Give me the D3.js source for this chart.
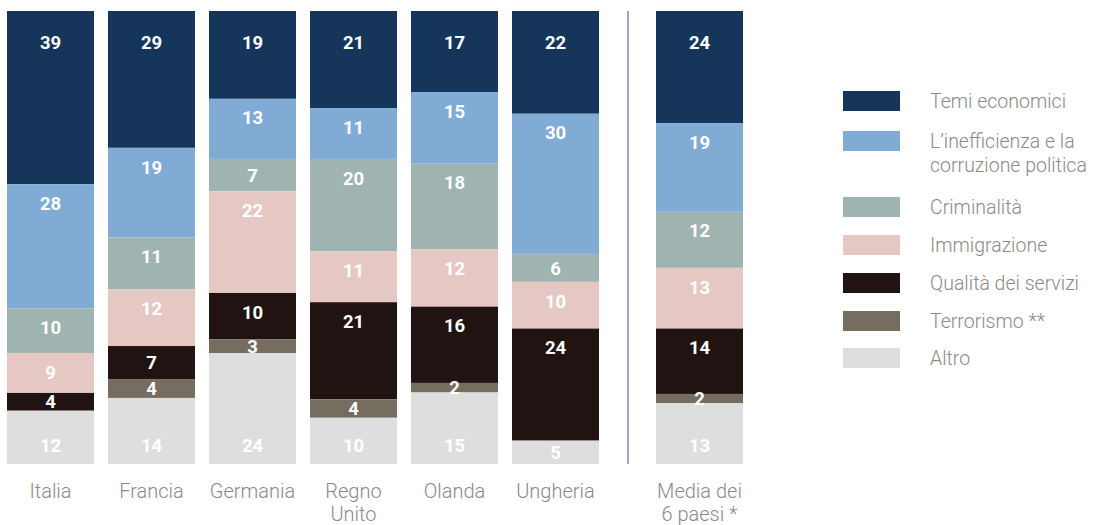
<!DOCTYPE html>
<html>
<head>
<meta charset="utf-8">
<script src="https://cdn.jsdelivr.net/npm/d3@7"></script>
<style>
  body { margin: 0; background: #fff; }
  text { font-family: Roboto, "Open Sans", sans-serif; }
  .num { font-weight: 700; fill: #fff; font-size: 18.5px; }
  .lab { font-weight: 300; fill: #8a8a8a; font-size: 20px; }
  .leg { font-weight: 300; fill: #8a8a8a; font-size: 19.5px; }
</style>
</head>
<body>
<script>
var svgWidth = 1097;
var svgHeight = 525;

// categories (columns), in drawing order
var countries = ["Italia", "Francia", "Germania", "Regno Unito", "Olanda", "Ungheria"];
var averageLabel = "Media dei 6 paesi *";

// series, from top of the bar to bottom
var topics = ["Temi economici", "L\u2019inefficienza e la corruzione politica", "Criminalità",
              "Immigrazione", "Qualità dei servizi", "Terrorismo **", "Altro"];
var colors = ["#15355a", "#7fabd5", "#9fb3b0", "#e5c8c4", "#211311", "#756d60", "#dedede"];

// values per topic (same order as topics); 0 = no segment
var temiEconomici = [39, 29, 19, 21, 17, 22, 24];
var inefficienza  = [28, 19, 13, 11, 15, 30, 19];
var criminalita   = [10, 11, 7, 20, 18, 6, 12];
var immigrazione  = [9, 12, 22, 11, 12, 10, 13];
var qualitaServ   = [4, 7, 10, 21, 16, 24, 14];
var terrorismo    = [0, 4, 3, 4, 2, 0, 2];
var altro         = [12, 14, 24, 10, 15, 5, 13];

var seriesValues = [temiEconomici, inefficienza, criminalita, immigrazione, qualitaServ, terrorismo, altro];
var columns = countries.concat([averageLabel]);

// build rows for d3.stack
var rows = columns.map(function(c, i) {
  var r = { name: c };
  topics.forEach(function(t, k) { r[t] = seriesValues[k][i]; });
  return r;
});

var barTop = 11, barBottom = 464;

var svg = d3.select("body").append("svg")
  .attr("width", svgWidth)
  .attr("height", svgHeight);

var xCountry = d3.scaleBand()
  .domain(countries)
  .range([7, 599])
  .paddingInner(14 / 101)
  .paddingOuter(0);

var xAvg = d3.scaleBand()
  .domain([averageLabel])
  .range([656, 743]);

function xPos(name) {
  return name === averageLabel ? xAvg(name) : xCountry(name);
}
var bw = xCountry.bandwidth();

// each column is shown as 100%
var y = d3.scaleLinear().domain([0, 1]).range([barTop, barBottom]);

var stack = d3.stack().keys(topics).offset(d3.stackOffsetExpand);
var series = stack(rows);

var layers = svg.append("g").selectAll("g")
  .data(series)
  .enter().append("g")
  .attr("fill", function(d, i) { return colors[i]; });

layers.selectAll("rect")
  .data(function(d) { return d.filter(function(p) { return p.data[d.key] > 0; }); })
  .enter().append("rect")
  .attr("x", function(d) { return xPos(d.data.name); })
  .attr("y", function(d) { return y(d[0]); })
  .attr("width", bw)
  .attr("height", function(d) { return y(d[1]) - y(d[0]); });

// value labels
series.forEach(function(s, k) {
  s.forEach(function(p) {
    var v = p.data[s.key];
    if (!v) return;
    var y0 = y(p[0]), y1 = y(p[1]), h = y1 - y0, cy;
    if (k === 0) cy = y0 + 31;
    else if (k === topics.length - 1) cy = y1 - Math.min(h / 2, 19);
    else cy = y0 + Math.min(h / 2, 19);
    svg.append("text")
      .attr("class", "num")
      .attr("x", xPos(p.data.name) + bw / 2)
      .attr("y", cy)
      .attr("dy", "0.36em")
      .attr("text-anchor", "middle")
      .text(v);
  });
});

// divider before the average column
svg.append("line")
  .attr("x1", 628).attr("x2", 628)
  .attr("y1", barTop).attr("y2", barBottom)
  .attr("stroke", "#7a8ca8")
  .attr("stroke-width", 1.5);

// category labels
var catLines = {
  "Regno Unito": ["Regno", "Unito"],
  "Media dei 6 paesi *": ["Media dei", "6 paesi *"]
};
columns.forEach(function(c) {
  var lines = catLines[c] || [c];
  var t = svg.append("text")
    .attr("class", "lab")
    .attr("text-anchor", "middle")
    .attr("x", xPos(c) + bw / 2)
    .attr("y", 498);
  lines.forEach(function(l, i) {
    t.append("tspan")
      .attr("x", xPos(c) + bw / 2)
      .attr("dy", i === 0 ? 0 : 23)
      .text(l);
  });
});

// legend
var legendRows = [101, 141, 207, 245, 283, 321, 358];
var legendLines = {
  1: ["L\u2019inefficienza e la", "corruzione politica"]
};
var legend = svg.append("g");
topics.forEach(function(t, k) {
  legend.append("rect")
    .attr("x", 843).attr("y", legendRows[k] - 10)
    .attr("width", 57).attr("height", 20)
    .attr("fill", colors[k]);
  var lines = legendLines[k] || [t];
  var tx = legend.append("text")
    .attr("class", "leg")
    .attr("x", 930)
    .attr("y", legendRows[k]);
  lines.forEach(function(l, i) {
    tx.append("tspan").attr("x", 930).attr("dy", i === 0 ? "0.35em" : 24).text(l);
  });
});
</script>
</body>
</html>
